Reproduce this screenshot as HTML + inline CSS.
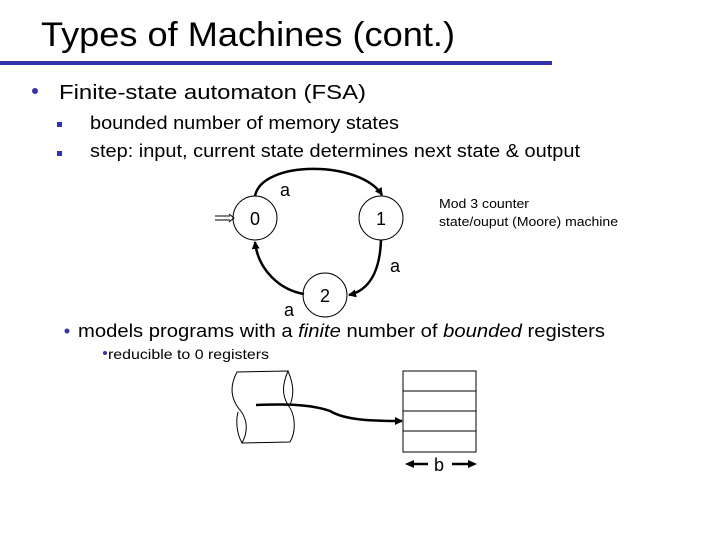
<!DOCTYPE html>
<html><head><meta charset="utf-8"><style>
body{margin:0;background:#fff;}
svg{display:block;font-family:"Liberation Sans",Arial,sans-serif;}
</style></head><body>
<svg width="720" height="540" viewBox="0 0 720 540" xmlns="http://www.w3.org/2000/svg">
<defs>
<marker id="ah" markerWidth="8" markerHeight="8" refX="7" refY="4" orient="auto" markerUnits="userSpaceOnUse"><path d="M0,0 L8,4 L0,8 z" fill="#000"/></marker>
</defs>
<text x="41" y="46" font-size="34" fill="#000" textLength="414" lengthAdjust="spacingAndGlyphs">Types of Machines (cont.)</text>
<rect x="0" y="61" width="552" height="4" fill="#3333aa"/>
<circle cx="35" cy="91" r="3" fill="#3333aa"/>
<text x="59" y="99" font-size="20" textLength="307" lengthAdjust="spacingAndGlyphs">Finite-state automaton (FSA)</text>
<rect x="57" y="122" width="5" height="5" fill="#3333aa"/>
<text x="90" y="129" font-size="18" textLength="309" lengthAdjust="spacingAndGlyphs">bounded number of memory states</text>
<rect x="57" y="151" width="5" height="5" fill="#3333aa"/>
<text x="90" y="157" font-size="18" textLength="490" lengthAdjust="spacingAndGlyphs">step: input, current state determines next state &amp; output</text>

<g fill="none" stroke="#000">
<circle cx="255" cy="218" r="22" stroke-width="1"/>
<circle cx="381" cy="218" r="22" stroke-width="1"/>
<circle cx="325" cy="295" r="22" stroke-width="1"/>
<path d="M255,196 C262,160 360,160 382,195" stroke-width="2.5" marker-end="url(#ah)"/>
<path d="M381,240 C380,270 370,290 349,295" stroke-width="2.5" marker-end="url(#ah)"/>
<path d="M304,294 C280,290 258,270 255,242" stroke-width="2.5" marker-end="url(#ah)"/>
<path d="M215,216 L230,216 M215,220 L230,220" stroke-width="1"/>
<path d="M229,214 L234,218 L229,222" stroke-width="1"/>
</g>
<text x="255" y="225" font-size="18" text-anchor="middle">0</text>
<text x="381" y="225" font-size="18" text-anchor="middle">1</text>
<text x="325" y="302" font-size="18" text-anchor="middle">2</text>
<text x="285" y="196" font-size="18" text-anchor="middle">a</text>
<text x="395" y="272" font-size="18" text-anchor="middle">a</text>
<text x="289" y="316" font-size="18" text-anchor="middle">a</text>
<text x="439" y="208" font-size="13" textLength="90" lengthAdjust="spacingAndGlyphs">Mod 3 counter</text>
<text x="439" y="226" font-size="13" textLength="179" lengthAdjust="spacingAndGlyphs">state/ouput (Moore) machine</text>

<circle cx="67" cy="331" r="2.5" fill="#3333aa"/>
<text x="78" y="337" font-size="18" textLength="527" lengthAdjust="spacingAndGlyphs">models programs with a <tspan font-style="italic">finite</tspan>  number of <tspan font-style="italic">bounded</tspan> registers</text>
<circle cx="105" cy="353" r="2" fill="#3333aa"/>
<text x="108" y="359" font-size="14" textLength="161" lengthAdjust="spacingAndGlyphs">reducible to 0 registers</text>

<g fill="none" stroke="#000" stroke-width="1">
<path d="M237,372 L288,371 C282,385 282,395 288,405 C296,415 296,432 290,442 L242,443 C248,432 248,420 240,410 C230,398 230,385 237,372 Z"/>
<path d="M288,371 C294,385 294,395 290,405"/>
<path d="M242,443 C236,432 236,420 238,412"/>
<path d="M256,405 C285,404 310,404 330,411 C345,420 370,421 402,421" stroke-width="2.5" marker-end="url(#ah)"/>
<rect x="403" y="371" width="73" height="81"/>
<line x1="403" y1="391" x2="476" y2="391"/>
<line x1="403" y1="411" x2="476" y2="411"/>
<line x1="403" y1="431" x2="476" y2="431"/>
<line x1="412" y1="464" x2="428" y2="464" stroke-width="2.5"/>
<line x1="452" y1="464" x2="470" y2="464" stroke-width="2.5"/>
</g>
<path d="M405,464 L414,460 L414,468 Z" fill="#000"/>
<path d="M477,464 L468,460 L468,468 Z" fill="#000"/>
<text x="439" y="471" font-size="18" text-anchor="middle">b</text>
</svg>
</body></html>
